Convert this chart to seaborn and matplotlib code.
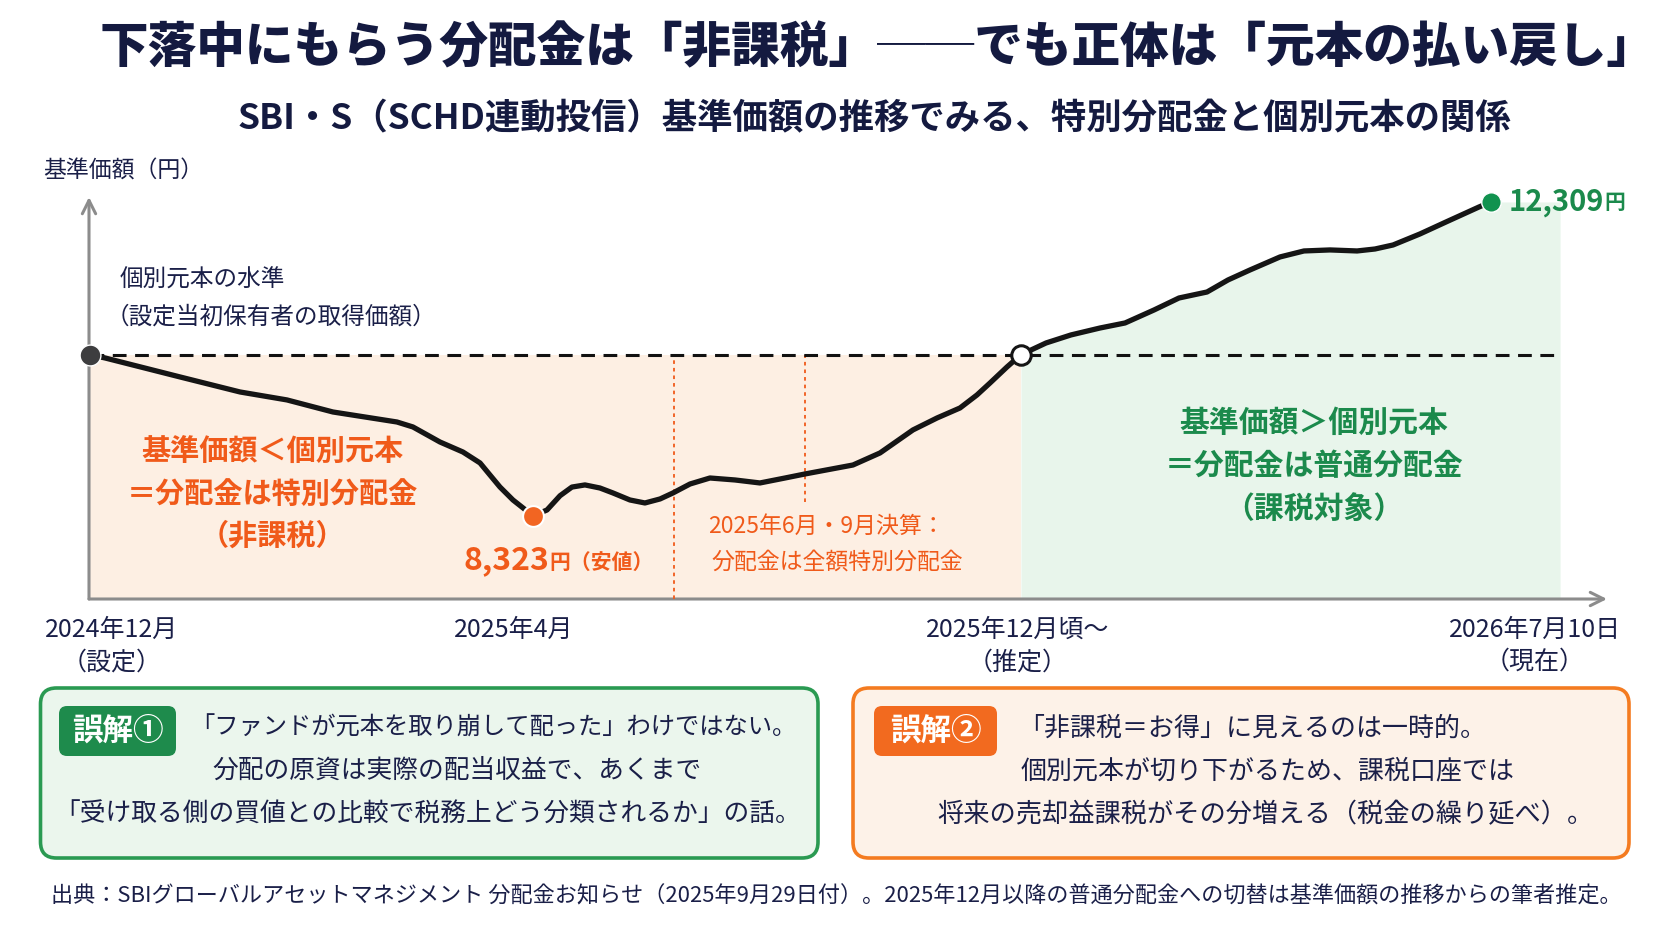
import matplotlib.pyplot as plt
import seaborn as sns
from matplotlib.patches import FancyBboxPatch

# ---- data (x = position on the schematic timeline, 0..100) ----
T = [0.0, 1.07, 6.42, 10.71, 14.06, 17.34, 21.91, 23.05, 24.98, 26.62, 27.84, 28.55,
     29.26, 30.19, 30.91, 31.62, 32.62, 33.55, 34.40, 35.33, 36.40, 37.33, 38.54,
     39.61, 40.69, 41.61, 42.83, 44.25, 46.04, 47.82, 49.61, 51.03, 54.46, 56.39,
     58.74, 60.46, 62.10, 63.31, 64.24, 65.45, 66.45, 68.24, 70.02, 72.09, 73.88,
     75.95, 77.73, 79.73, 81.23, 82.80, 84.94, 86.65, 88.51, 90.44, 91.72, 93.01,
     94.93, 96.79, 99.14, 100.0]
NAV = [10370, 10329, 10088, 9897, 9796, 9643, 9516, 9453, 9262, 9135, 8996, 8843,
       8691, 8526, 8425, 8323, 8399, 8580, 8690, 8717, 8678, 8615, 8526,
       8488, 8539, 8615, 8729, 8805, 8780, 8742, 8805, 8856, 8970, 9123,
       9415, 9567, 9694, 9859, 10011, 10214, 10370, 10519, 10621, 10709, 10773,
       10938, 11090, 11166, 11319, 11446, 11611, 11687, 11700, 11687, 11712, 11763,
       11903, 12055, 12245, 12309]
PRINCIPAL = 10370          # 個別元本の水準
CROSS_T = 66.45            # 2025年12月頃
SETTLE_T = [41.68, 51.03]  # 2025年6月・9月決算
SETTLE_LOW = [None, 8500]
TICK_T = [31.26, 66.45]
LABEL_T = [1.57, 30.26, 66.24, 103.14]
LABELS = ["2024年12月\n（設定）", "2025年4月", "2025年12月頃～\n（推定）", "2026年7月10日\n（現在）"]
REF_END_T = 104.93

NAVY = "#1a1f48"
ORANGE = "#f05a1a"
GREEN = "#1b8a4c"
GRAY = "#8c8c8c"

sns.set_theme(style="white")
plt.rcParams['font.family'] = ['Noto Sans CJK JP', 'DejaVu Sans']
plt.rcParams['axes.unicode_minus'] = False

fig = plt.figure(figsize=(16.72, 9.41), dpi=100)
fig.patch.set_facecolor("white")

# ---- chart ----
ax = fig.add_axes([0.05323, 0.36344, 0.9079, 0.42721])
ax.set_xlim(-0.07, 108.28)
ax.set_ylim(7269, 12372)
ax.set_facecolor("none")
for s in ax.spines.values():
    s.set_visible(False)
ybot = ax.get_ylim()[0]

# shaded zones
ax.fill_between([T[0], CROSS_T], ybot, PRINCIPAL, color="#fdefe3", lw=0, zorder=1)
gx = [t for t in T if t >= CROSS_T] + [REF_END_T]
gy = [v for t, v in zip(T, NAV) if t >= CROSS_T] + [NAV[-1]]
ax.fill_between(gx, ybot, gy, color="#e8f5eb", lw=0, zorder=1)

# axis arrows
for end in [(1, 0), (0, 1)]:
    ax.annotate("", xy=end, xytext=(0, 0), xycoords="axes fraction",
                arrowprops=dict(arrowstyle="->", color=GRAY, lw=2.2, mutation_scale=24,
                                shrinkA=0, shrinkB=0), annotation_clip=False, zorder=2)

# principal level + settlement lines
ax.hlines(PRINCIPAL, T[0], REF_END_T, colors="#111111", linestyles=(0, (4.5, 2.8)), lw=2.2, zorder=3)
for t, low in zip(SETTLE_T, SETTLE_LOW):
    ax.vlines(t, ybot if low is None else low, PRINCIPAL, colors=ORANGE,
              linestyles=(0, (2, 2.2)), lw=1.3, zorder=2)

# NAV curve
sns.lineplot(x=T, y=NAV, ax=ax, color="#151515", lw=3.8, zorder=5,
             solid_joinstyle="round", solid_capstyle="round")

imin = NAV.index(min(NAV))
icross = T.index(CROSS_T)
ax.plot(T[0], NAV[0], "o", ms=15, mfc="#3d3d3f", mec="white", mew=1, zorder=6, clip_on=False)
ax.plot(T[imin], NAV[imin], "o", ms=15, mfc="#f26522", mec="white", mew=1.5, zorder=6, clip_on=False)
ax.plot(T[icross], NAV[icross], "o", ms=14, mfc="white", mec="#151515", mew=2.2, zorder=6, clip_on=False)
ax.plot(T[-1], NAV[-1], "o", ms=14, mfc="#11924f", mec="white", mew=1, zorder=6, clip_on=False)

# value labels
t_end = ax.annotate(f"{NAV[-1]:,}", xy=(T[-1], NAV[-1]), xytext=(13, 0), textcoords="offset points",
                    va="center", ha="left", fontsize=21, color=GREEN, fontweight="bold", zorder=7)
ax.annotate("円", xy=(1, 0.12), xycoords=t_end, va="bottom", ha="left",
            fontsize=15, color=GREEN, fontweight="bold")
t_min = ax.annotate(f"{NAV[imin]:,}", xy=(T[imin], NAV[imin]), xytext=(11.5, -32), textcoords="offset points",
                    va="center", ha="right", fontsize=23, color=ORANGE, fontweight="bold", zorder=7)
ax.annotate("円（安値）", xy=(1, 0.12), xycoords=t_min, va="bottom", ha="left",
            fontsize=15, color=ORANGE, fontweight="bold")

# x ticks
ax.set_xticks(LABEL_T, LABELS)
ax.set_xticks(TICK_T, minor=True)
ax.set_yticks([])
ax.tick_params(axis="x", which="major", length=0, pad=13, labelsize=18, labelcolor=NAVY)
ax.tick_params(axis="x", which="minor", length=12, width=1.5, color=GRAY, direction="inout")
for lab in ax.get_xticklabels():
    lab.set_linespacing(1.3)
ax.set_xlabel("")
ax.set_ylabel("")

# ---- overlay in pixel coordinates for titles, notes and boxes ----
ov = fig.add_axes([0, 0, 1, 1])
ov.set_xlim(0, 1672)
ov.set_ylim(941, 0)
ov.axis("off")

ov.text(878, 48, "下落中にもらう分配金は「非課税」──でも正体は「元本の払い戻し」",
        ha="center", va="center", fontsize=35, fontweight="black", color="#141a40")
ov.text(874, 119, "SBI・S（SCHD連動投信）基準価額の推移でみる、特別分配金と個別元本の関係",
        ha="center", va="center", fontsize=25.5, fontweight="bold", color="#141a40")

ov.text(43, 171, "基準価額（円）", ha="left", va="center", fontsize=16.5, color=NAVY)
ov.text(120, 280, "個別元本の水準", ha="left", va="center", fontsize=17, color=NAVY)
ov.text(106, 317, "（設定当初保有者の取得価額）", ha="left", va="center", fontsize=17, color=NAVY)

for y, s in zip([451, 494, 536], ["基準価額＜個別元本", "＝分配金は特別分配金", "（非課税）"]):
    ov.text(272, y, s, ha="center", va="center", fontsize=21, fontweight="bold", color=ORANGE)
for y, s in zip([423, 466, 509], ["基準価額＞個別元本", "＝分配金は普通分配金", "（課税対象）"]):
    ov.text(1314, y, s, ha="center", va="center", fontsize=21.5, fontweight="bold", color=GREEN)
ov.text(826, 526, "2025年6月・9月決算：", ha="center", va="center", fontsize=16.5, color=ORANGE)
ov.text(837, 562, "分配金は全額特別分配金", ha="center", va="center", fontsize=16.5, color=ORANGE)

# note boxes
boxes = [
    dict(x=40.5, w=777.5, edge="#2a9a52", face="#ebf6ed", badge="#1e8b4c", bx=59, bw=117,
         tag="誤解①", lines=[(190, "left", 17.5, "「ファンドが元本を取り崩して配った」わけではない。"),
                             (457, "center", 18.5, "分配の原資は実際の配当収益で、あくまで"),
                             (428, "center", 18.5, "「受け取る側の買値との比較で税務上どう分類されるか」の話。")]),
    dict(x=853, w=776, edge="#f47b20", face="#fdf2e8", badge="#f26a1f", bx=874, bw=123,
         tag="誤解②", lines=[(1252, "center", 18.7, "「非課税＝お得」に見えるのは一時的。"),
                             (1268, "center", 18.7, "個別元本が切り下がるため、課税口座では"),
                             (1265, "center", 18.9, "将来の売却益課税がその分増える（税金の繰り延べ）。")]),
]
for b in boxes:
    ov.add_patch(FancyBboxPatch((b["x"], 688), b["w"], 170, boxstyle="round,pad=0,rounding_size=16",
                                fc=b["face"], ec=b["edge"], lw=2.6))
    ov.add_patch(FancyBboxPatch((b["bx"], 706), b["bw"], 50, boxstyle="round,pad=0,rounding_size=8",
                                fc=b["badge"], ec="none"))
    ov.text(b["bx"] + b["bw"] / 2, 731, b["tag"], ha="center", va="center", fontsize=22,
            fontweight="bold", color="white")
    for (x, ha, fs, s), y in zip(b["lines"], [728, 771, 815]):
        ov.text(x, y, s, ha=ha, va="center", fontsize=fs, color=NAVY)

ov.text(51, 896, "出典：SBIグローバルアセットマネジメント 分配金お知らせ（2025年9月29日付）。"
        "2025年12月以降の普通分配金への切替は基準価額の推移からの筆者推定。",
        ha="left", va="center", fontsize=15.9, color=NAVY)

fig.savefig("out.png", dpi=100, facecolor="white")
